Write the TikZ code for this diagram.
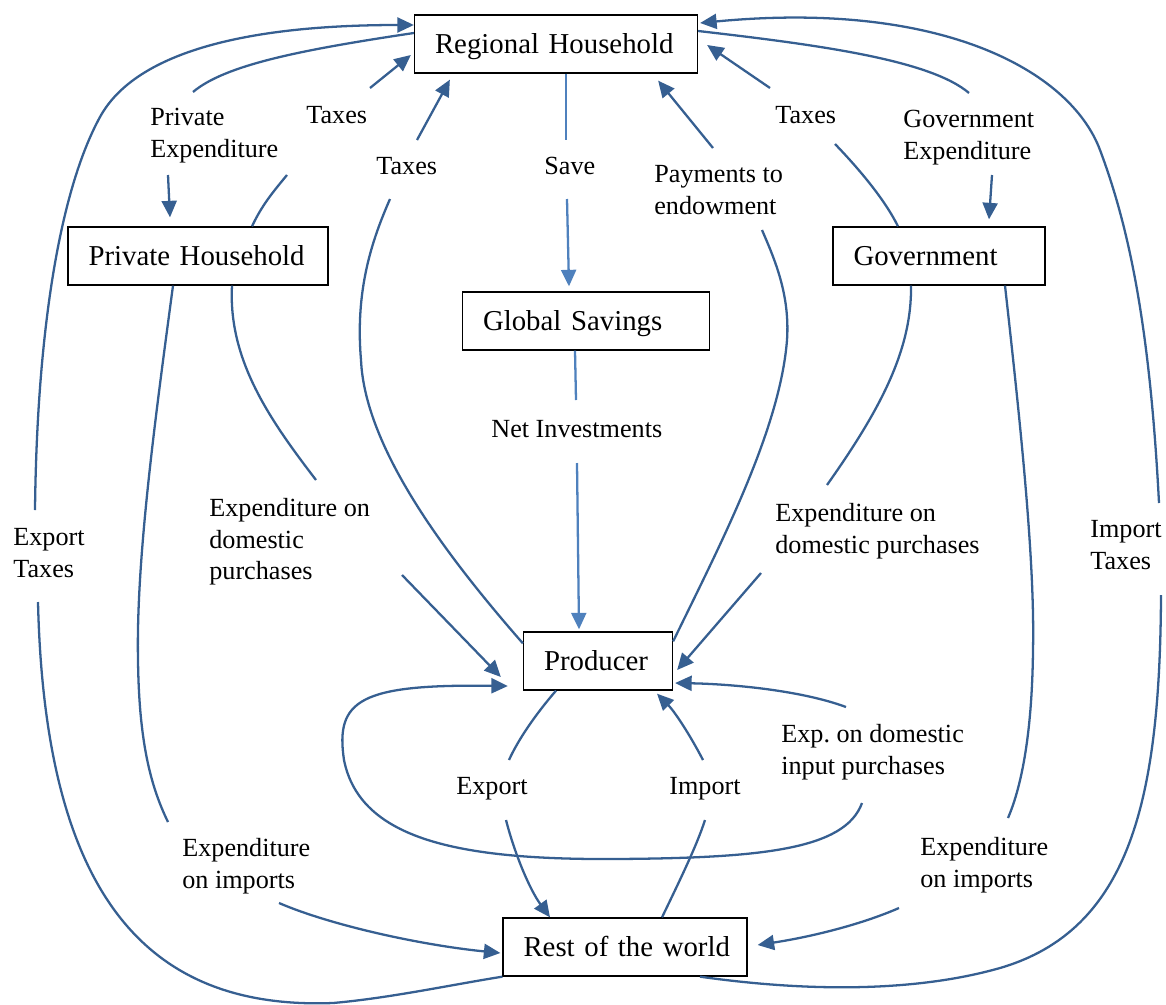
\documentclass[tikz,border=0pt]{standalone}
\usepackage{fontspec}
\setmainfont{Liberation Serif}
\usetikzlibrary{arrows.meta}
\definecolor{flow}{HTML}{365F91}
\definecolor{flowlight}{HTML}{4F81BD}
\tikzset{%
    >={Triangle[length=3.3mm,width=3mm]},
    % Specifications for style of nodes:
    base/.style = {
        rectangle, draw=black, line width=0.75pt,
        inner xsep=4.1mm, inner ysep=0pt,
        minimum height=11.6mm, text height=4mm, text depth=0.3mm,
        align=left, fill=white,
        font=\fontsize{16.4}{19}\selectfont
    },
    lbl/.style = {
        inner sep=0pt, anchor=north west, align=left,
        font=\fontsize{14.9}{18}\selectfont
    },
    flowline/.style = {draw=flow, line width=1.3pt},
    saveline/.style = {draw=flowlight, line width=1.3pt}
}

\begin{document}
\begin{tikzpicture}[x=0.02cm, y=-0.02cm]
    \useasboundingbox (0,0) rectangle (1166,1004);
    % agents
    \node[base, text width=48.4mm] (RH) at (556,44) {Regional~Household};
    \node[base, text width=43.8mm] (PH) at (198,256) {Private~Household};
    \node[base, text width=41.2mm] (GS) at (586,321) {Global~Savings};
    \node[base, text width=34.2mm] (GOV) at (939,256) {Government};
    \node[base, text width=21.6mm] (PR) at (598,661) {Producer};
    \node[base, text width=40.6mm] (RW) at (625,947) {Rest~of~the~world};
    % flow labels
    \node[lbl] (lPE) at (150,108) {Private\\Expenditure};
    \node[lbl] (lTx1) at (306,106) {Taxes};
    \node[lbl] (lTx2) at (376,157) {Taxes};
    \node[lbl] (lSave) at (544,157) {Save};
    \node[lbl] (lPay) at (654,165) {Payments to\\endowment};
    \node[lbl] (lTx3) at (775,106) {Taxes};
    \node[lbl] (lGE) at (903,110) {Government\\Expenditure};
    \node[lbl] (lNI) at (491,420) {Net Investments};
    \node[lbl] (lEDl) at (209,498) {Expenditure on\\domestic\\purchases};
    \node[lbl] (lET) at (13,528) {Export\\Taxes};
    \node[lbl] (lEDr) at (775,503) {Expenditure on\\domestic purchases};
    \node[lbl] (lIT) at (1090,520) {Import\\Taxes};
    \node[lbl] (lExp) at (456,777) {Export};
    \node[lbl] (lImp) at (669,777) {Import};
    \node[lbl] (lEDI) at (781,724) {Exp.\ on domestic\\input purchases};
    \node[lbl] (lEIl) at (182,838) {Expenditure\\on imports};
    \node[lbl] (lEIr) at (920,837) {Expenditure\\on imports};
    % line ends beside the labels
    \coordinate (pe1) at (193,92);   \coordinate (pe2) at (168,175);
    \coordinate (tx1a) at (287,175); \coordinate (tx1b) at (370,88);
    \coordinate (tx2a) at (390,199); \coordinate (tx2b) at (417,140);
    \coordinate (sv1) at (566,140);  \coordinate (sv2) at (567,199);
    \coordinate (pay1) at (762,230); \coordinate (pay2) at (713,148);
    \coordinate (tx3a) at (835,144); \coordinate (tx3b) at (770,88);
    \coordinate (ge1) at (969,93);   \coordinate (ge2) at (992,175);
    \coordinate (ni1) at (576,400);  \coordinate (ni2) at (577,463);
    \coordinate (edl1) at (316,480); \coordinate (edl2) at (402,575);
    \coordinate (et1) at (35,510);   \coordinate (et2) at (38,602);
    \coordinate (edr1) at (827,485); \coordinate (edr2) at (761,573);
    \coordinate (it1) at (1159,503); \coordinate (it2) at (1161,595);
    \coordinate (ex1) at (509,760);  \coordinate (ex2) at (506,820);
    \coordinate (im1) at (705,820);  \coordinate (im2) at (703,760);
    \coordinate (edi1) at (846,707); \coordinate (edi2) at (862,803);
    \coordinate (eil1) at (168,822); \coordinate (eil2) at (279,903);
    \coordinate (eir1) at (1008,818); \coordinate (eir2) at (899,908);
    % regional household and private household
    \draw[flowline] ([shift={(0,-11)}]RH.west) .. controls (300,50) and (225,65) .. (pe1);
    \draw[flowline,->] (pe2) -- ([shift={(-28,-9)}]PH.north);
    \draw[flowline] ([shift={(54,0)}]PH.north) .. controls (262,205) and (273,192) .. (tx1a);
    \draw[flowline,->] (tx1b) -- ([shift={(-3,11)}]RH.west);
    % producer taxes and endowments
    \draw[flowline] ([shift={(0,12)}]PR.north west) .. controls (450,560) and (365,450) .. (361,360)
        .. controls (355,290) and (372,240) .. (tx2a);
    \draw[flowline,->] (tx2b) -- ([shift={(36,6)}]RH.south west);
    \draw[flowline] ([shift={(0,10)}]PR.north east) .. controls (720,545) and (780,430) .. (787,340)
        .. controls (790,295) and (775,260) .. (pay1);
    \draw[flowline,->] (pay2) -- ([shift={(-40,7)}]RH.south east);
    % savings
    \draw[saveline] ([shift={(10,0)}]RH.south) -- (sv1);
    \draw[saveline,->] (sv2) -- ([shift={(-17,-5)}]GS.north);
    \draw[saveline] ([shift={(-11,0)}]GS.south) -- (ni1);
    \draw[saveline,->] (ni2) -- ([shift={(-19,-2)}]PR.north);
    % government
    \draw[flowline] ([shift={(-41,0)}]GOV.north) .. controls (885,200) and (860,170) .. (tx3a);
    \draw[flowline,->] (tx3b) -- ([shift={(9,1)}]RH.east);
    \draw[flowline] ([shift={(0,-13)}]RH.east) .. controls (820,45) and (930,60) .. (ge1);
    \draw[flowline,->] (ge2) -- ([shift={(50,-7)}]GOV.north);
    % domestic purchases
    \draw[flowline] ([shift={(34,0)}]PH.south) .. controls (228,360) and (270,420) .. (edl1);
    \draw[flowline,->] (edl2) -- ([shift={(-22,16)}]PR.west);
    \draw[flowline] ([shift={(-28,0)}]GOV.south) .. controls (912,350) and (880,410) .. (edr1);
    \draw[flowline,->] (edr2) -- ([shift={(4,9)}]PR.east);
    % outer arcs: export and import taxes
    \draw[flowline] (RW.south west) .. controls (450,985) and (390,998) .. (333,1003)
        .. controls (150,1010) and (45,900) .. (et2);
    \draw[flowline,->] (et1) .. controls (37,330) and (60,190) .. (100,117)
        .. controls (130,62) and (220,25) .. ([shift={(0,-19)}]RH.west);
    \draw[flowline] ([shift={(75,0)}]RW.south) .. controls (830,995) and (930,988) .. (1000,968)
        .. controls (1130,930) and (1160,800) .. (it2);
    \draw[flowline,->] (it1) .. controls (1150,330) and (1130,230) .. (1100,150)
        .. controls (1070,70) and (940,0) .. ([shift={(2,-21)}]RH.east);
    % export and import
    \draw[flowline] ([shift={(-42,0)}]PR.south) .. controls (535,715) and (518,740) .. (ex1);
    \draw[flowline,->] (ex2) .. controls (515,855) and (530,890) .. ([shift={(-75,0)}]RW.north);
    \draw[flowline] ([shift={(37,0)}]RW.north) .. controls (680,880) and (697,845) .. (im1);
    \draw[flowline,->] (im2) .. controls (690,735) and (675,712) .. ([shift={(59,3)}]PR.south);
    % input purchases loop
    \draw[flowline,->] (edi1) .. controls (800,690) and (730,684) .. ([shift={(2,22)}]PR.east);
    \draw[flowline,->] (edi2) .. controls (845,850) and (760,858) .. (616,859)
        .. controls (460,860) and (360,840) .. (344,760)
        .. controls (335,700) and (360,684) .. ([shift={(-15,25)}]PR.west);
    % expenditure on imports
    \draw[flowline] ([shift={(-25,0)}]PH.south) .. controls (155,420) and (136,560) .. (138,660)
        .. controls (139,740) and (150,785) .. (eil1);
    \draw[flowline,->] (eil2) .. controls (330,925) and (420,945) .. ([shift={(-2,6)}]RW.west);
    \draw[flowline] ([shift={(66,0)}]GOV.south) .. controls (1020,420) and (1035,560) .. (1033,650)
        .. controls (1032,740) and (1020,790) .. (eir1);
    \draw[flowline,->] (eir2) .. controls (860,925) and (810,937) .. ([shift={(10,-2)}]RW.east);
\end{tikzpicture}
\end{document}
